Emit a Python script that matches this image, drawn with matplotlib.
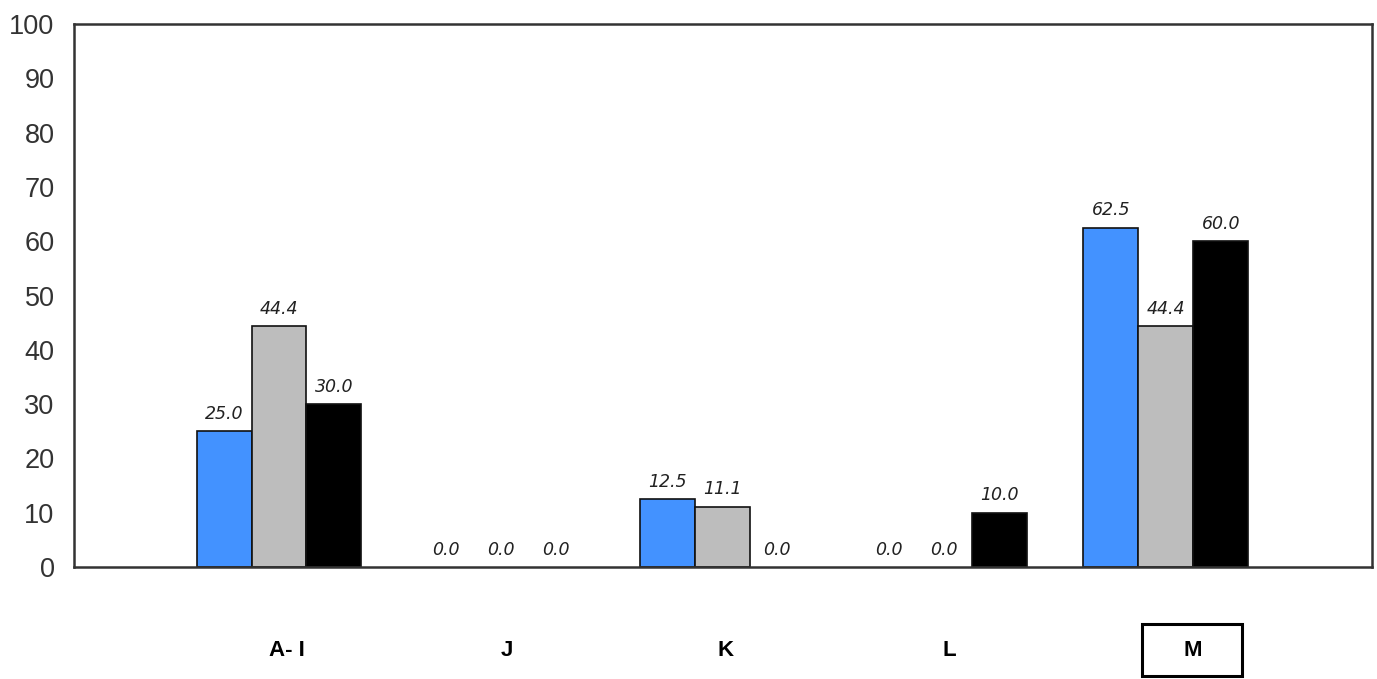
import matplotlib
matplotlib.use("Agg")
import matplotlib.pyplot as plt
from matplotlib.patches import Rectangle
import numpy as np

CATEGORIES = ["A- I", "J", "K", "L", "M"]
SERIES_1 = [25.0, 0.0, 12.5, 0.0, 62.5]
SERIES_2 = [44.4, 0.0, 11.1, 0.0, 44.4]
SERIES_3 = [30.0, 0.0, 0.0, 10.0, 60.0]
Y_TICKS = [0, 10, 20, 30, 40, 50, 60, 70, 80, 90, 100]

COLORS = ["#4392FF", "#BDBDBD", "#000000"]
BAR_W = 0.248
# small horizontal nudges for the category labels, as in the source chart
LABEL_SHIFT = [0.036, 0.027, 0.014, 0.023, 0.12]
BOXED = "M"


def main():
    plt.rcParams['font.family'] = ['Liberation Sans', 'DejaVu Sans']
    fig = plt.figure(figsize=(13.77, 6.79), dpi=100)
    ax = fig.add_axes([0.0537, 0.1649, 0.9426, 0.7997])

    x = np.arange(1, len(CATEGORIES) + 1)
    series = [SERIES_1, SERIES_2, SERIES_3]
    for i, vals in enumerate(series):
        pos = x + (i - 1) * BAR_W
        # empty bars get no outline, otherwise they thicken the baseline
        edges = ["#111111" if v > 0 else "none" for v in vals]
        ax.bar(pos, vals, width=BAR_W, color=COLORS[i], edgecolor=edges,
               linewidth=1.2, zorder=2)
        for px, v in zip(pos, vals):
            ax.annotate("{:.1f}".format(v), (px, v), xytext=(0, 6),
                        textcoords="offset points", ha="center", va="bottom",
                        fontsize=12.5, style="italic", color="#222222",
                        family="DejaVu Sans")

    ax.set_xlim(0.075, 5.93)
    ax.set_ylim(0, 100)
    ax.set_yticks(Y_TICKS)
    ax.tick_params(axis="y", length=0, pad=14, labelsize=19.5, labelcolor="#333333")
    ax.set_xticks([])
    for s in ax.spines.values():
        s.set_linewidth(1.8)
        s.set_color("#333333")

    # category labels under the plot
    for xi, name, dx in zip(x, CATEGORIES, LABEL_SHIFT):
        ax.text(xi + dx, -0.153, name, transform=ax.get_xaxis_transform(),
                ha="center", va="center", fontsize=16, fontweight="bold",
                color="black")
        if name == BOXED:
            # fixed-size frame round the highlighted category (100x52 px)
            cx, _ = ax.transData.transform((xi + dx, 0))
            fw, fh = fig.bbox.width, fig.bbox.height
            box = Rectangle(((cx - 50) / fw, 3 / fh), 100 / fw, 52 / fh,
                            transform=fig.transFigure, fill=False,
                            ec="black", lw=2.2)
            fig.add_artist(box)

    fig.savefig("out.png", dpi=100)


if __name__ == "__main__":
    main()
